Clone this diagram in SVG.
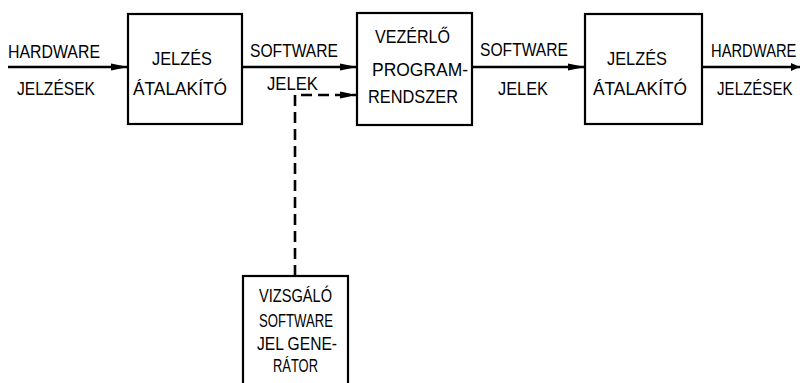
<svg xmlns="http://www.w3.org/2000/svg" width="802" height="383" viewBox="0 0 802 383">
<style>
.box{fill:#fff;stroke:#000;stroke-width:2.2}
.ln{fill:none;stroke:#000;stroke-width:2.6}
.dash{fill:none;stroke:#000;stroke-width:2.6;stroke-dasharray:11 6}
text{font-family:"Liberation Sans",Arial,sans-serif;font-size:18px;fill:#000}
</style>
<defs>
<marker id="ah" markerUnits="userSpaceOnUse" markerWidth="18" markerHeight="10" refX="17" refY="5" orient="auto">
<path d="M0,1.5 L17,5 L0,8.5 Z" fill="#000"/>
</marker>
<marker id="ahs" markerUnits="userSpaceOnUse" markerWidth="10" markerHeight="10" refX="9" refY="5" orient="auto">
<path d="M0,1 L9,5 L0,9 Z" fill="#000"/>
</marker>
</defs>
<rect width="802" height="383" fill="#fff"/>
<g id="connectors">
<line class="ln" x1="8" y1="67" x2="128" y2="67" marker-end="url(#ah)"/>
<line class="ln" x1="242" y1="67" x2="357" y2="67" marker-end="url(#ah)"/>
<line class="ln" x1="472" y1="67" x2="585" y2="67" marker-end="url(#ah)"/>
<line class="ln" x1="702" y1="67" x2="800" y2="67" marker-end="url(#ahs)"/>
<path class="dash" d="M295,276 L295,95 L357,95" marker-end="url(#ah)"/>
</g>
<g id="lbl-in">
<text x="8" y="58" textLength="92" lengthAdjust="spacingAndGlyphs">HARDWARE</text>
<text x="17" y="95" textLength="78" lengthAdjust="spacingAndGlyphs">JELZÉSEK</text>
</g>
<g id="box1">
<rect class="box" x="128" y="14" width="114" height="110"/>
<text x="152" y="65" textLength="60" lengthAdjust="spacingAndGlyphs">JELZÉS</text>
<text x="133" y="95" textLength="94" lengthAdjust="spacingAndGlyphs">ÁTALAKÍTÓ</text>
</g>
<g id="lbl-sw1">
<text x="250" y="57" textLength="88" lengthAdjust="spacingAndGlyphs">SOFTWARE</text>
<text x="267" y="90" textLength="51" lengthAdjust="spacingAndGlyphs">JELEK</text>
</g>
<g id="box2">
<rect class="box" x="357" y="13" width="115" height="112"/>
<text x="375" y="43" textLength="75" lengthAdjust="spacingAndGlyphs">VEZÉRLŐ</text>
<text x="372" y="76" textLength="96" lengthAdjust="spacingAndGlyphs">PROGRAM-</text>
<text x="368" y="103" textLength="90" lengthAdjust="spacingAndGlyphs">RENDSZER</text>
</g>
<g id="lbl-sw2">
<text x="480" y="56" textLength="88" lengthAdjust="spacingAndGlyphs">SOFTWARE</text>
<text x="498" y="95" textLength="50" lengthAdjust="spacingAndGlyphs">JELEK</text>
</g>
<g id="box3">
<rect class="box" x="585" y="14" width="117" height="110"/>
<text x="607" y="65" textLength="60" lengthAdjust="spacingAndGlyphs">JELZÉS</text>
<text x="593" y="95" textLength="94" lengthAdjust="spacingAndGlyphs">ÁTALAKÍTÓ</text>
</g>
<g id="lbl-out">
<text transform="translate(711,57) scale(0.82,1)">HARDWARE</text>
<text transform="translate(717,95) scale(0.84,1)">JELZÉSEK</text>
</g>
<g id="box4">
<rect class="box" x="243" y="276" width="105" height="120"/>
<text x="259" y="302" textLength="73" lengthAdjust="spacingAndGlyphs">VIZSGÁLÓ</text>
<text x="259" y="327" textLength="74" lengthAdjust="spacingAndGlyphs">SOFTWARE</text>
<text x="257" y="350" textLength="80" lengthAdjust="spacingAndGlyphs">JEL GENE-</text>
<text x="273" y="372" textLength="45" lengthAdjust="spacingAndGlyphs">RÁTOR</text>
</g>
</svg>
